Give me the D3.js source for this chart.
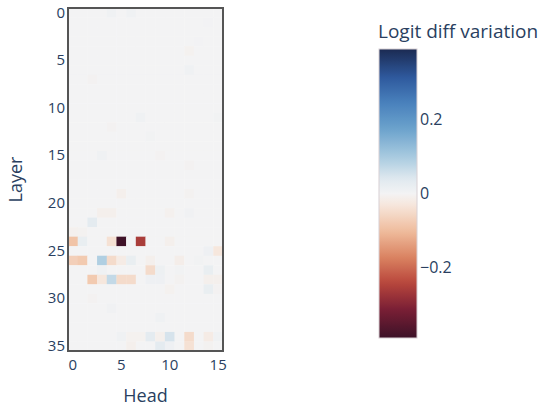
<!DOCTYPE html>
<html>
<head>
<meta charset="utf-8">
<script src="https://cdn.jsdelivr.net/npm/d3@7"></script>
<style>
  body { margin: 0; background: #fff; }
  text { font-family: "Open Sans", verdana, arial, sans-serif; fill: #2a3f5f; }
</style>
</head>
<body>
<div id="chart-area"></div>
<script>
// data
var heads = d3.range(16);
var layers = d3.range(36);
var xTicks = [0, 5, 10, 15];
var yTicks = [0, 5, 10, 15, 20, 25, 30, 35];
var cbTicks = [-0.2, 0, 0.2];

// logit diff variation, one row per layer, one value per head
var logitDiff = [
  [0, 0, 0, 0, 0.008, 0, 0.008, 0, 0, 0, 0, 0, 0, 0, 0, 0],
  [0, 0, 0, 0, 0, 0, 0, 0, 0, 0, 0, 0, 0, 0, 0.002, 0],
  [0, 0, 0, 0, 0, 0, 0, 0, 0, 0, 0, 0, 0, 0, 0, 0],
  [0, 0, 0, 0, 0, 0, 0, 0, 0, 0, 0, 0, 0, 0.002, 0, 0],
  [0, 0, 0, 0, 0, 0, 0, 0, 0, 0, 0, 0, -0.006, 0, 0, 0],
  [0, 0, 0, 0, 0, 0, 0, 0, 0, 0, 0, 0, 0, 0, 0, 0],
  [0, 0, 0, 0, 0, 0, 0, 0, 0, 0, 0, 0, 0.008, 0, 0, 0],
  [0, 0, -0.004, 0, 0, 0, 0, 0, 0, 0, 0, 0, 0, 0, 0, 0],
  [0, 0, 0, 0, 0, 0, 0, 0, 0, 0, 0, 0, 0, 0, 0, 0],
  [0, 0, 0, 0, 0, 0, 0, 0, 0, 0, 0, 0, 0, 0, 0, 0],
  [0, 0, 0, 0, 0, 0, 0, 0, 0, 0, 0, 0, 0, 0, 0, 0],
  [0, 0, 0, 0, 0, 0, 0, 0.008, 0, 0, 0, 0, 0, 0, 0, 0.005],
  [0, 0, 0, 0, -0.004, 0, 0, 0, 0, 0, 0, 0, 0, 0, 0, 0],
  [0, 0, 0, 0, 0, 0, 0, 0, 0.005, 0, 0, 0, 0, 0, 0, 0],
  [0, 0, 0, 0, 0, 0, 0, 0, 0, 0, 0, 0, 0, 0, 0, 0],
  [0, 0, 0, 0.008, 0, 0, 0, 0, 0, -0.004, 0, 0, 0, 0, 0, 0],
  [0, 0, 0, 0, 0, 0, 0, 0, 0, 0, 0, 0, -0.004, 0, 0, 0],
  [0, 0, 0, 0, 0, 0, 0, 0, 0, 0, 0, 0, 0, 0, 0, 0],
  [0, 0, 0, 0, 0, 0, 0, 0, 0, 0, 0, 0, 0, 0, 0, 0],
  [0, 0, 0, 0, 0, -0.01, 0, 0, 0, 0, 0, 0, -0.005, 0, 0, 0],
  [0, 0, 0, 0, 0, 0, 0, 0, 0, 0, 0, 0, 0, 0, 0, 0],
  [0, 0, 0, -0.01, -0.01, 0, 0, 0, 0, 0, -0.008, 0, 0.006, 0, 0, 0],
  [0, 0, 0.03, 0, 0, 0, 0, 0, 0, 0, 0, 0, 0, 0, 0, 0],
  [-0.008, -0.005, 0, 0, 0, 0, 0, 0, 0, 0, 0, 0, 0, 0, 0, 0],
  [-0.09, 0.02, 0, 0, -0.04, -0.39, 0, -0.26, 0, 0, -0.01, 0, 0, 0, 0, 0],
  [0, 0, 0, 0, 0, 0, 0, 0, 0, 0, 0, 0, 0, 0, 0.01, -0.03],
  [-0.07, -0.08, 0, 0.09, -0.05, -0.02, 0.02, 0, -0.01, 0, 0, -0.015, 0, 0.005, 0, 0],
  [0, 0, 0, 0.008, 0, 0, 0, 0, -0.05, 0.012, 0, 0.005, 0, 0, 0.02, 0],
  [0, 0, -0.08, -0.03, 0.07, -0.05, -0.05, 0, 0.01, 0.01, 0, -0.005, 0, 0, -0.01, -0.01],
  [0, 0, 0, 0, 0, 0, 0, 0, 0, 0, -0.006, 0, 0, 0, 0.02, -0.004],
  [0, 0, -0.004, 0, 0, 0, 0, 0, 0, 0, 0, 0, 0, 0, 0, 0],
  [0, 0, 0, 0, 0.006, 0, 0, 0, 0, 0, 0, 0, 0, 0, 0, 0],
  [0, 0, 0, 0, 0, 0, 0, 0, 0, 0.008, 0, 0, 0, 0, 0, 0],
  [0, 0, 0, 0, 0, 0, 0, 0, 0, 0, 0, 0, 0, 0, 0, 0],
  [0, 0, 0, 0, 0, 0.008, -0.006, -0.006, 0.03, -0.01, 0.05, 0, -0.05, 0, -0.02, 0.008],
  [0, 0, 0, 0, 0, 0, -0.01, 0, 0, 0.03, 0.01, 0, -0.04, 0, -0.005, 0]
];

var cells = [];
logitDiff.forEach(function(row, l) {
  row.forEach(function(v, h) { cells.push({ layer: l, head: h, value: v }); });
});

var zMax = 0.392;
var fontFamily = '"Open Sans", verdana, arial, sans-serif';

var svg = d3.select("#chart-area")
    .append("svg")
    .attr("width", 543)
    .attr("height", 406);

// plot area
var plot = { left: 68, top: 8, width: 155, height: 343 };

var x = d3.scaleBand()
    .domain(heads)
    .range([plot.left, plot.left + plot.width]);
var y = d3.scaleBand()
    .domain(layers)
    .range([plot.top, plot.top + plot.height]);

// diverging colours, red for negative, blue for positive
var colorStops = [
  [-1.00, "#3d1228"],
  [-0.80, "#7a1f35"],
  [-0.62, "#b8463c"],
  [-0.45, "#d9805f"],
  [-0.25, "#f0bfa0"],
  [-0.08, "#f6e6dc"],
  [ 0.00, "#f3f3f4"],
  [ 0.10, "#e0e9ef"],
  [ 0.25, "#a9cbe0"],
  [ 0.45, "#6ba2cc"],
  [ 0.62, "#4a82bd"],
  [ 0.80, "#2f5a9e"],
  [ 1.00, "#1b2a52"]
];
var color = d3.scaleLinear()
    .domain(colorStops.map(function(d) { return d[0] * zMax; }))
    .range(colorStops.map(function(d) { return d[1]; }))
    .interpolate(d3.interpolateRgb)
    .clamp(true);

svg.append("g")
    .selectAll("rect")
    .data(cells)
    .enter()
    .append("rect")
    .attr("x", function(d) { return x(d.head); })
    .attr("y", function(d) { return y(d.layer); })
    .attr("width", x.bandwidth() + 0.3)
    .attr("height", y.bandwidth() + 0.3)
    .attr("fill", function(d) { return color(d.value); });

// frame
svg.append("rect")
    .attr("x", plot.left)
    .attr("y", plot.top)
    .attr("width", plot.width)
    .attr("height", plot.height)
    .attr("fill", "none")
    .attr("stroke", "#555")
    .attr("stroke-width", 2);

// X Axis
var xAxisCall = d3.axisBottom(x).tickValues(xTicks).tickSize(0).tickPadding(8);
var xAxis = svg.append("g")
    .attr("transform", "translate(0," + (plot.top + plot.height) + ")")
    .call(xAxisCall);
xAxis.select(".domain").remove();
xAxis.selectAll("text").attr("font-size", "15px").attr("fill", "#2a3f5f")
    .style("font-family", fontFamily);

// Y Axis
var yAxisCall = d3.axisLeft(y).tickValues(yTicks).tickSize(0).tickPadding(3);
var yAxis = svg.append("g")
    .attr("transform", "translate(" + plot.left + ",0)")
    .call(yAxisCall);
yAxis.select(".domain").remove();
yAxis.selectAll("text").attr("font-size", "15px").attr("fill", "#2a3f5f")
    .style("font-family", fontFamily);

// Labels
svg.append("text")
    .attr("x", plot.left + plot.width / 2)
    .attr("y", 402)
    .attr("font-size", "18px")
    .attr("text-anchor", "middle")
    .text("Head");
svg.append("text")
    .attr("transform", "rotate(-90)")
    .attr("x", -(plot.top + plot.height / 2))
    .attr("y", 22)
    .attr("font-size", "18px")
    .attr("text-anchor", "middle")
    .text("Layer");

// Colorbar
var cb = { left: 379, top: 49, width: 38, height: 289 };
var cbScale = d3.scaleLinear()
    .domain([-zMax, zMax])
    .range([cb.top + cb.height, cb.top]);

var grad = svg.append("defs")
    .append("linearGradient")
    .attr("id", "cbGrad")
    .attr("x1", 0).attr("y1", 1)
    .attr("x2", 0).attr("y2", 0);
grad.selectAll("stop")
    .data(d3.range(0, 1.0001, 0.02))
    .enter()
    .append("stop")
    .attr("offset", function(t) { return t; })
    .attr("stop-color", function(t) { return color(-zMax + 2 * zMax * t); });

svg.append("rect")
    .attr("x", cb.left)
    .attr("y", cb.top)
    .attr("width", cb.width)
    .attr("height", cb.height)
    .attr("fill", "url(#cbGrad)")
    .attr("stroke", "#d8d0d4")
    .attr("stroke-width", 1);

var cbAxis = svg.append("g")
    .attr("transform", "translate(" + (cb.left + cb.width) + ",0)")
    .call(d3.axisRight(cbScale).tickValues(cbTicks).tickSize(0).tickPadding(3)
        .tickFormat(function(d) { return d === 0 ? "0" : d3.format(".1f")(d).replace("-", "\u2212"); }));
cbAxis.select(".domain").remove();
cbAxis.selectAll("text").attr("font-size", "16px").attr("fill", "#2a3f5f")
    .style("font-family", fontFamily);

svg.append("text")
    .attr("x", 378)
    .attr("y", 38)
    .attr("font-size", "19px")
    .text("Logit diff variation");
</script>
</body>
</html>
